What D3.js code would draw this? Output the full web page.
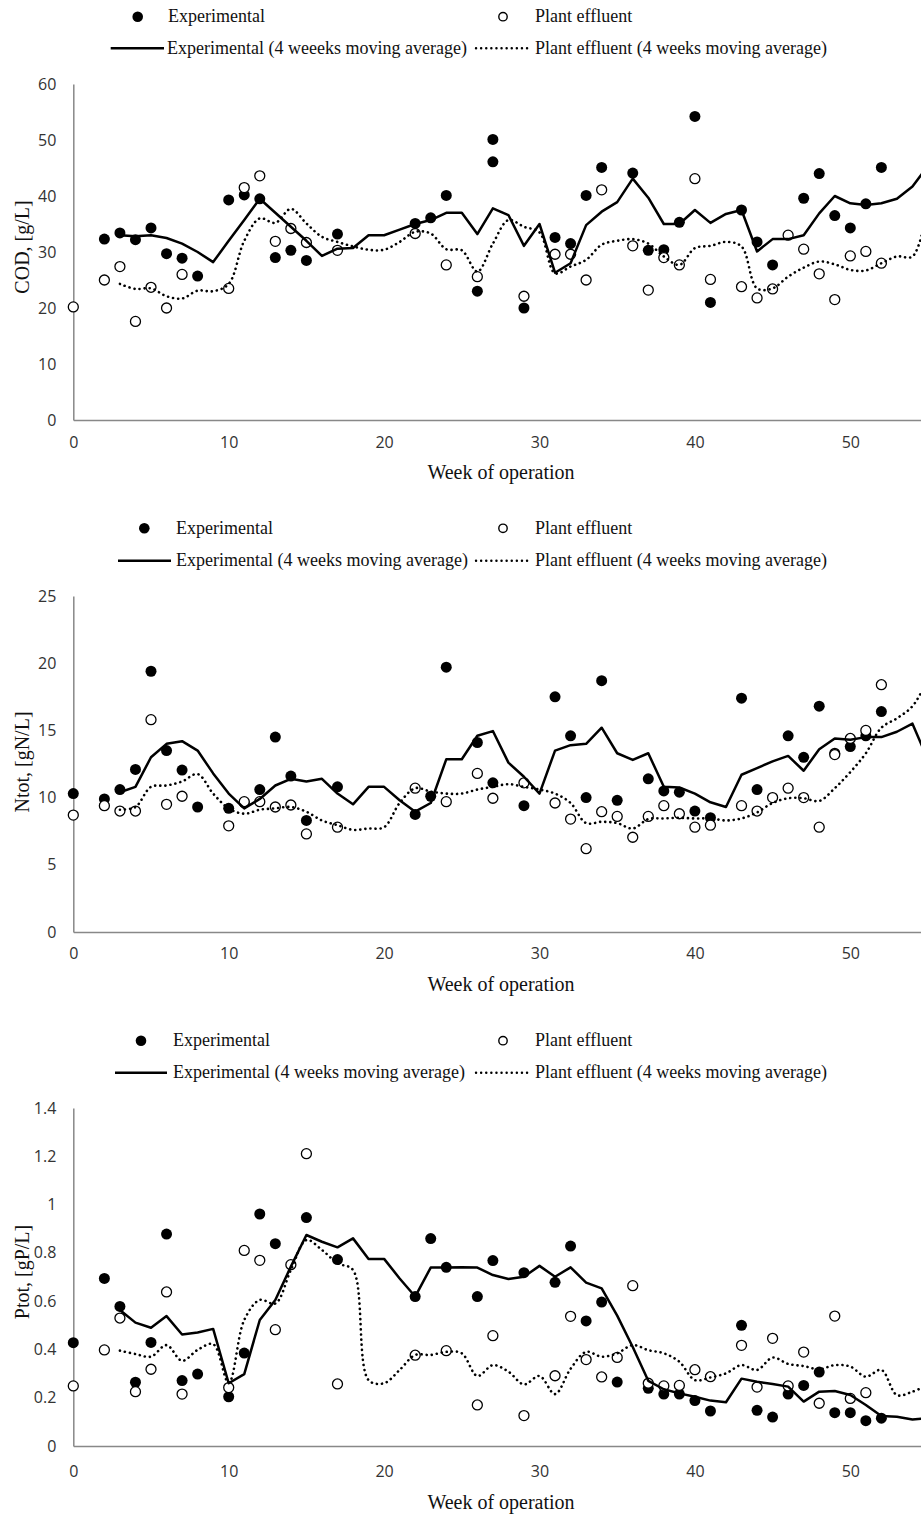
<!DOCTYPE html>
<html>
<head>
<meta charset="utf-8">
<script src="https://cdn.jsdelivr.net/npm/d3@7"></script>
<style>
body { margin: 0; background: #fff; }
svg { display: block; }
.tick text { font-family: "Open Sans", sans-serif; font-size: 16px; fill: #333; }
.serif { font-family: "Liberation Serif", "Times New Roman", serif; fill: #111; }
</style>
</head>
<body>
<div id="chart"></div>
<script>
// week numbers and tick labels
var xTicks = [0, 10, 20, 30, 40, 50];
var maWeeks = [3, 4, 5, 6, 7, 8, 9, 10, 11, 12, 13, 14, 15, 16, 17, 18, 19, 20, 21, 22, 23, 24, 25, 26, 27, 28,
               29, 30, 31, 32, 33, 34, 35, 36, 37, 38, 39, 40, 41, 42, 43, 44, 45, 46, 47, 48, 49, 50, 51, 52,
               53, 54, 55];

// COD, g/L
var codTicks = [0, 10, 20, 30, 40, 50, 60];
var codExpWeeks = [2, 3, 4, 5, 6, 7, 8, 10, 11, 12, 13, 14, 15, 17, 22, 23, 24, 26, 27, 27, 29, 31, 32, 33, 34,
                   36, 37, 38, 39, 40, 41, 43, 44, 45, 47, 48, 49, 50, 51, 52, 55];
var codExp = [32.3, 33.4, 32.2, 34.3, 29.7, 28.9, 25.7, 39.3, 40.2, 39.5, 29.0, 30.3, 28.5, 33.2, 35.1, 36.1, 40.1,
              23.0, 50.1, 46.1, 20.0, 32.6, 31.5, 40.1, 45.1, 44.1, 30.3, 30.4, 35.3, 54.2, 21.0, 37.5, 31.8, 27.7,
              39.6, 44.0, 36.5, 34.3, 38.6, 45.1, 47.3];
var codPlantWeeks = [0, 2, 3, 4, 5, 6, 7, 10, 11, 12, 13, 14, 15, 17, 22, 24, 26, 29, 31, 32, 33, 34, 36, 37, 38,
                     39, 40, 41, 43, 44, 45, 46, 47, 48, 49, 50, 51, 52];
var codPlant = [20.2, 25.0, 27.4, 17.6, 23.7, 20.0, 26.0, 23.5, 41.5, 43.6, 31.9, 34.2, 31.7, 30.3, 33.3, 27.7, 25.6,
                22.1, 29.6, 29.6, 25.0, 41.1, 31.1, 23.2, 29.0, 27.7, 43.1, 25.1, 23.8, 21.8, 23.4, 33.0, 30.5, 26.1,
                21.5, 29.3, 30.1, 28.0];
var codExpMA = [33.0, 32.8, 33.0, 32.5, 31.5, 30.0, 28.2, 32.0, 35.7, 39.5, 37.0, 34.5, 32.0, 29.3, 30.6, 30.7, 33.0,
                33.0, 34.0, 35.0, 35.7, 37.0, 37.0, 33.2, 37.8, 36.6, 31.1, 35.0, 26.3, 28.0, 34.8, 37.2, 38.9, 43.1,
                39.7, 35.0, 35.0, 37.5, 35.2, 36.8, 37.5, 30.1, 32.3, 32.3, 33.0, 36.9, 40.0, 38.7, 38.4, 38.7, 39.5,
                41.7, 45.4];
var codPlantMA = [24.3, 23.4, 23.5, 22.1, 21.7, 23.1, 23.0, 24.3, 32.0, 36.0, 35.2, 37.7, 35.1, 32.7, 31.8, 31.0,
                  30.4, 30.4, 31.8, 33.6, 33.3, 30.5, 30.3, 26.5, 31.5, 35.7, 34.5, 33.5, 26.2, 27.4, 28.6, 31.3, 32.0,
                  32.3, 31.5, 29.2, 27.7, 30.7, 31.1, 31.8, 31.0, 23.5, 23.5, 25.6, 27.2, 28.3, 27.8, 26.8, 26.7, 28.0,
                  29.2, 29.2, 38.0];

// Ntot, gN/L
var ntotTicks = [0, 5, 10, 15, 20, 25];
var ntotExpWeeks = [0, 2, 3, 4, 5, 6, 7, 8, 10, 11, 12, 13, 14, 15, 17, 22, 23, 24, 26, 27, 29, 31, 32, 33, 34, 35,
                    37, 38, 39, 40, 41, 43, 44, 46, 47, 48, 49, 50, 51, 52, 55];
var ntotExp = [10.3, 9.9, 10.6, 12.1, 19.4, 13.5, 12.05, 9.3, 9.2, 9.6, 10.6, 14.5, 11.6, 8.3, 10.8, 8.75, 10.1, 19.7,
               14.1, 11.1, 9.4, 17.5, 14.6, 10.0, 18.7, 9.8, 11.4, 10.5, 10.4, 9.0, 8.5, 17.4, 10.6, 14.6, 13.0, 16.8,
               13.3, 13.8, 14.6, 16.4, 10.3];
var ntotPlantWeeks = [0, 2, 3, 4, 5, 6, 7, 10, 11, 12, 13, 14, 15, 17, 22, 24, 26, 27, 29, 31, 32, 33, 34, 35, 36,
                      37, 38, 39, 40, 41, 43, 44, 45, 46, 47, 48, 49, 50, 51, 52];
var ntotPlant = [8.7, 9.4, 9.0, 9.0, 15.8, 9.5, 10.1, 7.9, 9.7, 9.7, 9.3, 9.45, 7.3, 7.8, 10.7, 9.7, 11.8, 9.95, 11.1,
                 9.6, 8.4, 6.2, 8.95, 8.6, 7.05, 8.6, 9.4, 8.8, 7.8, 7.95, 9.4, 9.0, 10.0, 10.7, 10.0, 7.8, 13.2, 14.4,
                 15.0, 18.4];
var ntotExpMA = [10.4, 10.8, 13.0, 14.0, 14.2, 13.5, 11.8, 10.3, 9.2, 9.9, 10.9, 11.4, 11.2, 11.4, 10.3, 9.5, 10.8,
                 10.8, 9.8, 8.95, 9.6, 12.85, 12.85, 14.6, 14.95, 12.6, 11.55, 10.3, 13.5, 13.9, 14.0, 15.2, 13.3, 12.8,
                 13.3, 10.8, 10.75, 10.3, 9.65, 9.3, 11.7, 12.2, 12.7, 13.1, 12.0, 13.6, 14.4, 14.3, 14.5, 14.5, 14.9,
                 15.5, 12.8];
var ntotPlantMA = [9.1, 9.3, 10.8, 10.9, 11.2, 11.75, 10.3, 9.2, 8.8, 9.1, 9.2, 9.3, 8.95, 8.3, 7.95, 7.6, 7.7, 7.8,
                   9.6, 10.7, 10.45, 10.3, 10.3, 10.6, 10.8, 11.0, 10.8, 10.6, 10.3, 9.6, 8.1, 8.2, 8.1, 7.7, 8.4, 8.45,
                   8.5, 8.45, 8.45, 8.3, 8.45, 8.9, 9.6, 9.95, 9.95, 9.75, 10.7, 11.9, 13.3, 15.2, 15.9, 16.8, 18.8];

// Ptot, gP/L
var ptotTicks = [0, 0.2, 0.4, 0.6, 0.8, 1, 1.2, 1.4];
var ptotExpWeeks = [0, 2, 3, 4, 5, 6, 7, 8, 10, 11, 12, 13, 15, 17, 22, 23, 24, 26, 27, 29, 31, 32, 33, 34, 35, 37,
                    38, 39, 40, 41, 43, 44, 45, 46, 47, 48, 49, 50, 51, 52];
var ptotExp = [0.428, 0.694, 0.578, 0.264, 0.429, 0.878, 0.271, 0.298, 0.204, 0.385, 0.961, 0.838, 0.946, 0.772,
               0.619, 0.859, 0.74, 0.619, 0.768, 0.718, 0.678, 0.828, 0.518, 0.596, 0.265, 0.239, 0.215, 0.215, 0.188,
               0.145, 0.5, 0.148, 0.12, 0.215, 0.251, 0.306, 0.138, 0.138, 0.105, 0.115];
var ptotPlantWeeks = [0, 2, 3, 4, 5, 6, 7, 10, 11, 12, 13, 14, 15, 17, 22, 24, 26, 27, 29, 31, 32, 33, 34, 35, 36,
                      37, 38, 39, 40, 41, 43, 44, 45, 46, 47, 48, 49, 50, 51];
var ptotPlant = [0.249, 0.398, 0.53, 0.225, 0.318, 0.638, 0.215, 0.242, 0.81, 0.769, 0.482, 0.751, 1.211, 0.257,
                 0.376, 0.395, 0.17, 0.457, 0.126, 0.291, 0.537, 0.358, 0.286, 0.367, 0.664, 0.26, 0.249, 0.251, 0.316,
                 0.287, 0.417, 0.244, 0.446, 0.249, 0.389, 0.177, 0.538, 0.197, 0.221];
var ptotExpMA = [0.563, 0.511, 0.49, 0.538, 0.462, 0.47, 0.485, 0.26, 0.298, 0.522, 0.605, 0.743, 0.874, 0.846, 0.823,
                 0.86, 0.775, 0.775, 0.694, 0.619, 0.739, 0.739, 0.74, 0.739, 0.708, 0.692, 0.701, 0.746, 0.701, 0.74,
                 0.677, 0.653, 0.54, 0.41, 0.27, 0.235, 0.218, 0.204, 0.188, 0.181, 0.279, 0.266, 0.257, 0.246, 0.184,
                 0.225, 0.228, 0.211, 0.17, 0.124, 0.121, 0.11, 0.115];
var ptotPlantMA = [0.395, 0.381, 0.37, 0.418, 0.353, 0.398, 0.422, 0.262, 0.522, 0.605, 0.59, 0.729, 0.853, 0.812,
                   0.757, 0.729, 0.273, 0.26, 0.315, 0.377, 0.377, 0.39, 0.384, 0.29, 0.335, 0.308, 0.255, 0.29, 0.215,
                   0.32, 0.39, 0.37, 0.384, 0.418, 0.397, 0.384, 0.349, 0.273, 0.284, 0.301, 0.335, 0.315, 0.366, 0.34,
                   0.331, 0.318, 0.335, 0.329, 0.287, 0.315, 0.211, 0.225, 0.253];

var W = 921, H = 1514;
var axisColor = "#888";

var svg = d3.select("#chart")
    .append("svg")
    .attr("width", W)
    .attr("height", H);

// the x range runs past the right edge, the picture is cut at week ~54.6
var x = d3.scaleLinear()
    .domain([0, 60])
    .range([73.3, 73.3 + 60 * 15.54]);

function pairs(weeks, vals) {
    return weeks.map(function(w, i) { return {w: w, v: vals[i]}; });
}

function drawPanel(p) {
    var y = d3.scaleLinear()
        .domain([0, p.ticks[p.ticks.length - 1]])
        .range([p.bottom, p.top]);
    var g = svg.append("g");

    // axes, no tick marks, grey axis lines
    var yAxis = g.append("g")
        .attr("transform", "translate(" + x(0) + ",0)")
        .call(d3.axisLeft(y).tickValues(p.ticks).tickSize(0).tickPadding(17)
              .tickFormat(function(d) { return String(d); }));
    var xAxis = g.append("g")
        .attr("transform", "translate(0," + p.bottom + ")")
        .call(d3.axisBottom(x).tickValues(xTicks).tickSize(0).tickPadding(p.xPad));
    [yAxis, xAxis].forEach(function(a) {
        a.select(".domain").attr("stroke", axisColor).attr("stroke-width", 1.5);
    });

    g.append("text")
        .attr("class", "serif")
        .attr("transform", "translate(21.5," + p.yLabelY + ") rotate(-90)")
        .attr("text-anchor", "middle")
        .attr("dy", "0.35em")
        .style("font-size", "20px")
        .text(p.yLabel);

    g.append("text")
        .attr("class", "serif")
        .attr("x", 501)
        .attr("y", p.bottom + p.titleOff)
        .attr("text-anchor", "middle")
        .attr("dy", "0.35em")
        .style("font-size", "20px")
        .text("Week of operation");

    // markers
    g.append("g")
        .selectAll("circle")
        .data(pairs(p.expWeeks, p.exp))
        .enter()
        .append("circle")
        .attr("cx", function(d) { return x(d.w); })
        .attr("cy", function(d) { return y(d.v); })
        .attr("r", 5.5)
        .attr("fill", "#000");

    g.append("g")
        .selectAll("circle")
        .data(pairs(p.plantWeeks, p.plant))
        .enter()
        .append("circle")
        .attr("cx", function(d) { return x(d.w); })
        .attr("cy", function(d) { return y(d.v); })
        .attr("r", 5)
        .attr("fill", "#fff")
        .attr("stroke", "#000")
        .attr("stroke-width", 1.3);

    // moving averages
    var lineLin = d3.line()
        .x(function(d) { return x(d.w); })
        .y(function(d) { return y(d.v); });
    var lineSmooth = d3.line()
        .x(function(d) { return x(d.w); })
        .y(function(d) { return y(d.v); })
        .curve(d3.curveCatmullRom.alpha(0.5));

    g.append("path")
        .attr("d", lineLin(pairs(maWeeks, p.expMA)))
        .attr("fill", "none")
        .attr("stroke", "#000")
        .attr("stroke-width", 2.5)
        .attr("stroke-linejoin", "round");

    g.append("path")
        .attr("d", lineSmooth(pairs(maWeeks, p.plantMA)))
        .attr("fill", "none")
        .attr("stroke", "#000")
        .attr("stroke-width", 2.6)
        .attr("stroke-linecap", "round")
        .attr("stroke-dasharray", "0.1,5");

    // legend, two rows
    var L = p.leg;
    var lg = g.append("g").attr("class", "serif").style("font-size", "18px");
    lg.append("circle").attr("cx", L.dotX).attr("cy", L.r1).attr("r", 5.3).attr("fill", "#000");
    lg.append("text").attr("x", L.dotTextX).attr("y", L.r1).attr("dy", "0.32em").text("Experimental");
    lg.append("circle").attr("cx", 503).attr("cy", L.r1).attr("r", 4.2)
        .attr("fill", "#fff").attr("stroke", "#000").attr("stroke-width", 1.4);
    lg.append("text").attr("x", 535).attr("y", L.r1).attr("dy", "0.32em").text("Plant effluent");

    lg.append("line").attr("x1", L.lineX1).attr("x2", L.lineX2).attr("y1", L.r2).attr("y2", L.r2)
        .attr("stroke", "#000").attr("stroke-width", 2.5);
    lg.append("text").attr("x", L.lineTextX).attr("y", L.r2).attr("dy", "0.32em").text(p.expLegend);
    lg.append("line").attr("x1", 476).attr("x2", 529).attr("y1", L.r2).attr("y2", L.r2)
        .attr("stroke", "#000").attr("stroke-width", 2.4)
        .attr("stroke-linecap", "round").attr("stroke-dasharray", "0.1,5");
    lg.append("text").attr("x", 535).attr("y", L.r2).attr("dy", "0.32em")
        .text("Plant effluent (4 weeks moving average)");
}

drawPanel({
    top: 84, bottom: 420, ticks: codTicks, xPad: 17, titleOff: 52,
    yLabel: "COD, [g/L]", yLabelY: 247,
    expWeeks: codExpWeeks, exp: codExp, plantWeeks: codPlantWeeks, plant: codPlant,
    expMA: codExpMA, plantMA: codPlantMA,
    expLegend: "Experimental (4 weeeks moving average)",
    leg: {r1: 16.7, r2: 48.3, dotX: 137.7, dotTextX: 168, lineX1: 110.7, lineX2: 164, lineTextX: 167}
});

drawPanel({
    top: 596, bottom: 932, ticks: ntotTicks, xPad: 16, titleOff: 52,
    yLabel: "Ntot, [gN/L]", yLabelY: 762,
    expWeeks: ntotExpWeeks, exp: ntotExp, plantWeeks: ntotPlantWeeks, plant: ntotPlant,
    expMA: ntotExpMA, plantMA: ntotPlantMA,
    expLegend: "Experimental (4 weeks moving average)",
    leg: {r1: 528.3, r2: 560.7, dotX: 144.3, dotTextX: 176, lineX1: 118, lineX2: 171, lineTextX: 176}
});

drawPanel({
    top: 1108, bottom: 1446, ticks: ptotTicks, xPad: 20, titleOff: 56,
    yLabel: "Ptot, [gP/L]", yLabelY: 1272,
    expWeeks: ptotExpWeeks, exp: ptotExp, plantWeeks: ptotPlantWeeks, plant: ptotPlant,
    expMA: ptotExpMA, plantMA: ptotPlantMA,
    expLegend: "Experimental (4 weeks moving average)",
    leg: {r1: 1040.7, r2: 1072.7, dotX: 141, dotTextX: 173, lineX1: 115, lineX2: 167, lineTextX: 173}
});
</script>
</body>
</html>
